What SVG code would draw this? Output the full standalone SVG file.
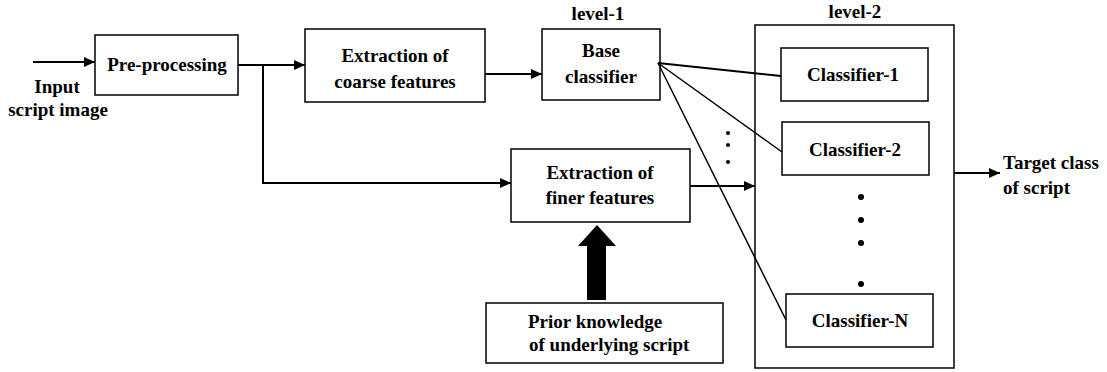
<svg xmlns="http://www.w3.org/2000/svg" width="1107" height="372" viewBox="0 0 1107 372">
<style>
.box{fill:#fff;stroke:#000;stroke-width:1.5}
.outer{fill:none;stroke:#000;stroke-width:1.5}
.t{font-family:"Liberation Serif","Times New Roman",serif;font-size:19px;font-weight:bold;fill:#000}
.c{text-anchor:middle}
.ln{stroke:#000;stroke-width:2;fill:none}
.thin{stroke:#000;stroke-width:1.5;fill:none}
</style>
<defs>
<marker id="ah" markerUnits="userSpaceOnUse" markerWidth="12" markerHeight="10" refX="11" refY="5" orient="auto">
<path d="M0,0 L11,5 L0,10 Z" fill="#000"/>
</marker>
</defs>
<rect width="1107" height="372" fill="#fff"/>
<g id="input-label">
<text class="t c" x="57" y="93">Input</text>
<text class="t c" x="58" y="116">script image</text>
</g>
<g id="preprocessing">
<rect class="box" x="95" y="35" width="143" height="60"/>
<text class="t c" x="167" y="71">Pre-processing</text>
</g>
<g id="coarse">
<rect class="box" x="305" y="29" width="180" height="73"/>
<text class="t c" x="395" y="62">Extraction of</text>
<text class="t c" x="395" y="88">coarse features</text>
</g>
<g id="base">
<text class="t c" x="598" y="20">level-1</text>
<rect class="box" x="542" y="29" width="118" height="71"/>
<text class="t c" x="601" y="57">Base</text>
<text class="t c" x="601" y="83">classifier</text>
</g>
<g id="finer">
<rect class="box" x="511" y="149" width="179" height="73"/>
<text class="t c" x="600" y="179">Extraction of</text>
<text class="t c" x="600" y="204">finer features</text>
</g>
<g id="prior">
<rect class="box" x="486" y="303" width="237" height="60"/>
<text class="t" x="528" y="328">Prior knowledge</text>
<text class="t" x="529" y="351">of underlying script</text>
</g>
<g id="level2">
<text class="t c" x="855" y="18">level-2</text>
<rect class="outer" x="755" y="25" width="199" height="343"/>
<circle cx="861" cy="197" r="3"/>
<circle cx="861" cy="220" r="3"/>
<circle cx="861" cy="243" r="3"/>
<circle cx="861" cy="284" r="3"/>
</g>
<g id="classifier1">
<rect class="box" x="781" y="48" width="147" height="53"/>
<text class="t c" x="853" y="81">Classifier-1</text>
</g>
<g id="classifier2">
<rect class="box" x="782" y="122" width="147" height="53"/>
<text class="t c" x="855" y="156">Classifier-2</text>
</g>
<g id="classifierN">
<rect class="box" x="786" y="294" width="147" height="53"/>
<text class="t c" x="860" y="327">Classifier-N</text>
</g>
<g id="target">
<text class="t" x="1003" y="169">Target class</text>
<text class="t" x="1003" y="194">of script</text>
</g>
<g id="connectors">
<line class="ln" x1="33" y1="62" x2="95" y2="62" marker-end="url(#ah)"/>
<line class="ln" x1="238" y1="65" x2="305" y2="65" marker-end="url(#ah)"/>
<polyline class="ln" points="263,65 263,183 511,183" marker-end="url(#ah)"/>
<line class="ln" x1="485" y1="74" x2="542" y2="74" marker-end="url(#ah)"/>
<line class="ln" x1="658" y1="63" x2="781" y2="76"/>
<line class="thin" x1="658" y1="63" x2="782" y2="152"/>
<line class="thin" x1="658" y1="63" x2="786" y2="320"/>
<line class="ln" x1="690" y1="186" x2="755" y2="186" marker-end="url(#ah)"/>
<line class="ln" x1="954" y1="173" x2="1000" y2="173" marker-end="url(#ah)"/>
<polygon points="587,300 587,246 578,246 597,225 616,246 606,246 606,300" fill="#000"/>
<circle cx="728" cy="133" r="2"/>
<circle cx="728" cy="145" r="2"/>
<circle cx="728" cy="162" r="2"/>
</g>
</svg>
